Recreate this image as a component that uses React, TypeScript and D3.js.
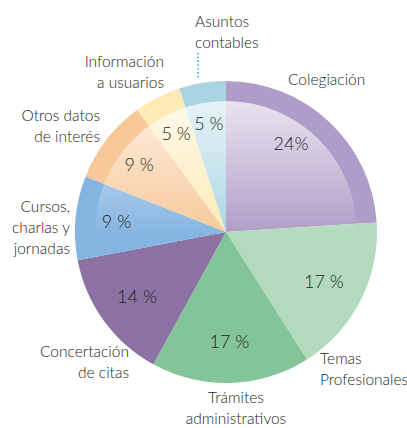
import * as d3 from 'd3';
import React from 'react';

// slices clockwise from 12 o'clock
const categories = [
  ['Colegiación'],
  ['Temas', 'Profesionales'],
  ['Trámites', 'administrativos'],
  ['Concertación', 'de citas'],
  ['Cursos,', 'charlas y', 'jornadas'],
  ['Otros datos', 'de interés'],
  ['Información', 'a usuarios'],
  ['Asuntos', 'contables'],
];
const values = [24, 17, 17, 14, 9, 9, 5, 5];
const pctLabels = ['24%', '17 %', '17 %', '14 %', '9 %', '9 %', '5 %', '5 %'];
const colors = ['#b09cc8', '#b3dabc', '#84c499', '#8c72a3', '#84b4e1', '#f7c898', '#fdeab5', '#a8d5e1'];

const W = 407, H = 428;
const cx = 226, cy = 232, R = 151, innerR = 131;

// label placement (style): anchor + position around the pie
const catPos = [
  { x: 288, y: 85, anchor: 'start' },
  { x: 320, y: 364, anchor: 'start' },
  { x: 236, y: 403, anchor: 'middle' },
  { x: 129, y: 357, anchor: 'end' },
  { x: 70, y: 212, anchor: 'end' },
  { x: 100, y: 121, anchor: 'end' },
  { x: 164, y: 67, anchor: 'end' },
  { x: 195, y: 27, anchor: 'start' },
];
const pctNudge = [-7, 0, 0, 0, 0, 0, 0, 0];

const App = () => {
  const pie = d3.pie<number>().sort(null).value(d => d);
  const arcs = pie(values);
  const arc = d3.arc<d3.PieArcDatum<number>>().innerRadius(0).outerRadius(R);
  const rLabel = 110;

  return (
    <svg width={W} height={H} style={{ display: 'block', position: 'absolute', left: 0, top: 0 }}
      fontFamily="Lato, 'Noto Sans', sans-serif" fontWeight={300}>
      <defs>
        <linearGradient id="shine" x1="0" y1="0" x2="0" y2="1">
          <stop offset="0" stopColor="#fff" stopOpacity={0.72} />
          <stop offset="0.52" stopColor="#fff" stopOpacity={0} />
        </linearGradient>
      </defs>
      <rect width={W} height={H} fill="#fff" />
      <g transform={`translate(${cx},${cy})`}>
        {arcs.map((a, i) => (
          <path key={i} d={arc(a) || ''} fill={colors[i]} />
        ))}
        <circle r={innerR} fill="url(#shine)" />
        {arcs.map((a, i) => {
          const ang = (a.startAngle + a.endAngle) / 2 + (pctNudge[i] * Math.PI) / 180;
          return (
            <text key={i} x={Math.sin(ang) * rLabel} y={-Math.cos(ang) * rLabel} dy="0.36em"
              textAnchor="middle" fontSize={18} fill="#231f20">{pctLabels[i]}</text>
          );
        })}
      </g>
      {categories.map((lines, i) => (
        <text key={i} x={catPos[i].x} y={catPos[i].y} textAnchor={catPos[i].anchor}
          fontSize={15.5} fill="#231f20">
          {lines.map((l, j) => (
            <tspan key={j} x={catPos[i].x} dy={j === 0 ? 0 : 21}>{l}</tspan>
          ))}
        </text>
      ))}
      <line x1={198} x2={198} y1={53} y2={79} stroke="#2aa3c0" strokeWidth={1.6}
        strokeDasharray="1.4 2.4" />
    </svg>
  );
};

export default App;
